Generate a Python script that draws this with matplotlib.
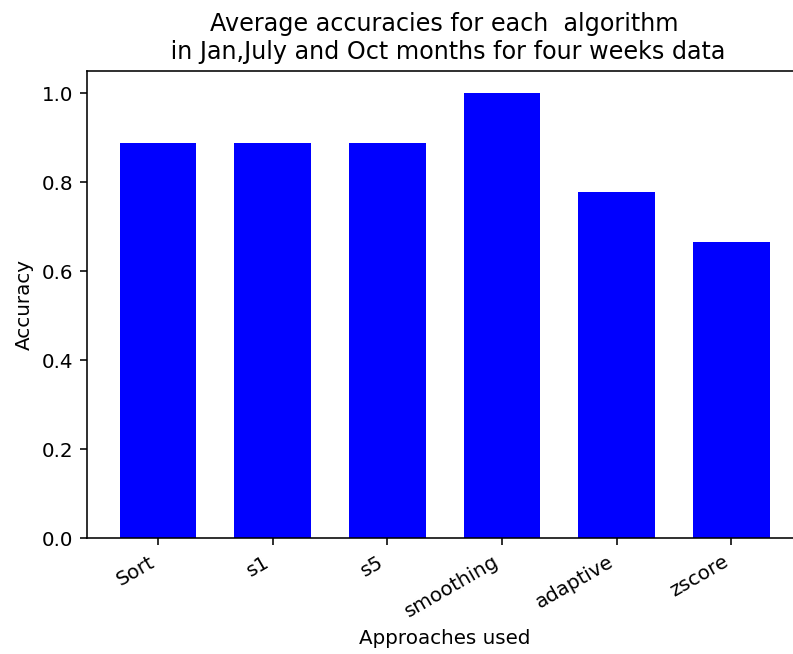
import matplotlib
matplotlib.use('Agg')
import matplotlib.pyplot as plt
import numpy as np

approaches = ['Sort', 's1', 's5', 'smoothing', 'adaptive', 'zscore']
accuracy = [8 / 9, 8 / 9, 8 / 9, 1.0, 7 / 9, 2 / 3]

# everything drawn about 1.43x the default size
s = 1.43
plt.rcParams['font.size'] = 10 * s
plt.rcParams['axes.linewidth'] = 0.8 * s
for a in ('xtick', 'ytick'):
    plt.rcParams[a + '.major.size'] = 3.5 * s
    plt.rcParams[a + '.major.width'] = 0.8 * s
    plt.rcParams[a + '.major.pad'] = 3.5 * s
plt.rcParams['axes.labelpad'] = 4 * s

fig = plt.figure(figsize=(7.93, 6.54), dpi=100)
ax = fig.add_axes([0.1097, 0.1769, 0.902, 0.7145])

x = np.arange(len(approaches))
ax.bar(x, accuracy, width=0.668, color='blue')
ax.set_xticks(x)
ax.set_xticklabels(approaches, rotation=30, ha='right')
ax.set_xlabel('Approaches used')
ax.set_ylabel('Accuracy')
ax.set_title('Average accuracies for each  algorithm\n in Jan,July and Oct months for four weeks data',
             fontsize=12 * s, pad=6 * s)

fig.savefig('out.png', dpi=100)
